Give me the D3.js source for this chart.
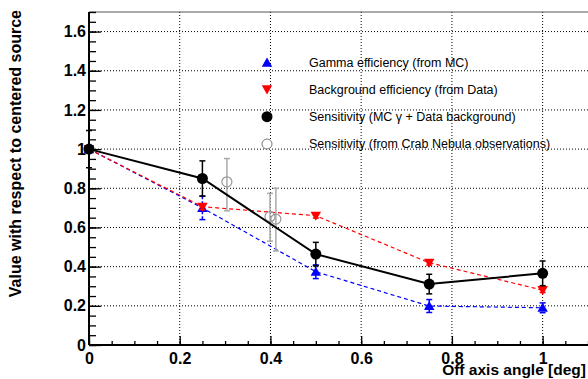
<!DOCTYPE html>
<html>
<head>
<meta charset="utf-8">
<script src="https://cdn.jsdelivr.net/npm/d3@7"></script>
<style>
  html, body { margin: 0; padding: 0; background: #fff; }
  svg text { font-family: "Liberation Sans", Arial, Helvetica, sans-serif; }
</style>
</head>
<body>
<div id="chart"></div>
<script>
// values
const angles = [0, 0.25, 0.5, 0.75, 1.0];
const gammaEff = [1.0, 0.70, 0.374, 0.199, 0.19];
const gammaErr = [0.0, 0.06, 0.035, 0.033, 0.025];
const bkgEff = [1.0, 0.706, 0.66, 0.42, 0.28];
const bkgErr = [0.0, 0.015, 0.012, 0.012, 0.012];
const sensitivity = [1.0, 0.85, 0.464, 0.311, 0.366];
const sensErr = [0.095, 0.09, 0.06, 0.05, 0.063];

const crabAngles = [0.304, 0.399, 0.412];
const crabSens = [0.833, 0.655, 0.643];
const crabErrLo = [0.148, 0.125, 0.163];
const crabErrHi = [0.119, 0.119, 0.157];

const xTicks = [0, 0.2, 0.4, 0.6, 0.8, 1.0];
const yTicks = [0, 0.2, 0.4, 0.6, 0.8, 1.0, 1.2, 1.4, 1.6];

const legendLabels = [
    "Gamma efficiency (from MC)",
    "Background efficiency (from Data)",
    "Sensitivity (MC \u03b3 + Data background)",
    "Sensitivity (from Crab Nebula observations)"
];

const width = 588, height = 379;
const margin = { top: 12, right: 0, bottom: 34, left: 89 };
const innerWidth = width - margin.left - margin.right;
const innerHeight = height - margin.top - margin.bottom;

const svg = d3.select("#chart").append("svg")
    .attr("width", width).attr("height", height)
    .style("display", "block");

const g = svg.append("g").attr("transform", `translate(${margin.left},${margin.top})`);

const x = d3.scaleLinear().domain([0, 1.1]).range([0, innerWidth]);
const y = d3.scaleLinear().domain([0, 1.7]).range([innerHeight, 0]);

// grid
g.append("g").selectAll("line").data(xTicks.filter(d => d > 0)).join("line")
    .attr("x1", d => x(d)).attr("x2", d => x(d)).attr("y1", 0).attr("y2", innerHeight)
    .attr("stroke", "#000").attr("stroke-width", 1).attr("stroke-dasharray", "1,2");
g.append("g").selectAll("line").data(yTicks.filter(d => d > 0)).join("line")
    .attr("x1", 0).attr("x2", innerWidth).attr("y1", d => y(d)).attr("y2", d => y(d))
    .attr("stroke", "#000").attr("stroke-width", 1).attr("stroke-dasharray", "1,2");

// top frame
g.append("line").attr("x1", 0).attr("x2", innerWidth).attr("y1", 0).attr("y2", 0)
    .attr("stroke", "#555").attr("stroke-width", 1);

// minor ticks
const xMinor = d3.range(0, 1.1001, 0.05);
const yMinor = d3.range(0, 1.7001, 0.05);
g.append("g").attr("transform", `translate(0,${innerHeight})`)
    .call(d3.axisBottom(x).tickValues(xMinor).tickSize(-4).tickFormat(""))
    .call(a => a.select(".domain").remove())
    .selectAll("line").attr("stroke", "#000").attr("stroke-width", 1.3);
g.append("g")
    .call(d3.axisLeft(y).tickValues(yMinor).tickSize(-7).tickFormat(""))
    .call(a => a.select(".domain").remove())
    .selectAll("line").attr("stroke", "#000").attr("stroke-width", 1.3);

// major ticks with labels
const xAxis = g.append("g").attr("transform", `translate(0,${innerHeight})`)
    .call(d3.axisBottom(x).tickValues(xTicks).tickSize(-9).tickPadding(14).tickFormat(d3.format("")));
xAxis.select(".domain").remove();
xAxis.selectAll("line").attr("stroke", "#000").attr("stroke-width", 1.3);
xAxis.selectAll("text").attr("fill", "#000").style("font-size", "16px").style("font-weight", "bold")
    .attr("dy", "0.3em");

const yAxis = g.append("g")
    .call(d3.axisLeft(y).tickValues(yTicks).tickSize(-12).tickPadding(3).tickFormat(d3.format("")));
yAxis.select(".domain").remove();
yAxis.selectAll("line").attr("stroke", "#000").attr("stroke-width", 1.3);
yAxis.selectAll("text").attr("fill", "#000").style("font-size", "16px").style("font-weight", "bold");

// axis lines
g.append("line").attr("x1", 0).attr("x2", innerWidth).attr("y1", innerHeight).attr("y2", innerHeight)
    .attr("stroke", "#000").attr("stroke-width", 2);
g.append("line").attr("x1", 0).attr("x2", 0).attr("y1", 0).attr("y2", innerHeight)
    .attr("stroke", "#000").attr("stroke-width", 2);

// axis titles
svg.append("text").attr("x", 586).attr("y", 375).attr("text-anchor", "end")
    .style("font-size", "15.5px").style("font-weight", "bold").text("Off axis angle [deg]");
svg.append("text").attr("transform", "translate(21,10) rotate(-90)").attr("text-anchor", "end")
    .style("font-size", "16px").style("font-weight", "bold").text("Value with respect to centered source");

const line = d3.line().x(d => x(d[0])).y(d => y(d[1]));

function errorBars(xs, vals, lo, hi, color, dash, cap) {
    const eg = g.append("g");
    xs.forEach((xv, i) => {
        if (lo[i] <= 0 && hi[i] <= 0) return;
        const top = y(vals[i] + hi[i]), bot = y(vals[i] - lo[i]);
        eg.append("line").attr("x1", x(xv)).attr("x2", x(xv)).attr("y1", top).attr("y2", bot)
            .attr("stroke", color).attr("stroke-width", 1.5).attr("stroke-dasharray", dash);
        if (cap > 0) {
            [top, bot].forEach(yy => eg.append("line")
                .attr("x1", x(xv) - cap).attr("x2", x(xv) + cap).attr("y1", yy).attr("y2", yy)
                .attr("stroke", color).attr("stroke-width", 1.5));
        }
    });
}

const tri = d3.symbol().type(d3.symbolTriangle).size(48);

// gamma efficiency
g.append("path").datum(angles.map((a, i) => [a, gammaEff[i]])).attr("d", line)
    .attr("fill", "none").attr("stroke", "#0000ff").attr("stroke-width", 1.2).attr("stroke-dasharray", "4,3");
errorBars(angles, gammaEff, gammaErr, gammaErr, "#0000ff", "3,2", 3);
g.append("g").selectAll("path").data(angles).join("path")
    .attr("transform", (d, i) => `translate(${x(d)},${y(gammaEff[i]) + 1})`)
    .attr("d", tri).attr("fill", "#0000ff");

// background efficiency
g.append("path").datum(angles.map((a, i) => [a, bkgEff[i]])).attr("d", line)
    .attr("fill", "none").attr("stroke", "#ff0000").attr("stroke-width", 1.2).attr("stroke-dasharray", "4,3");
errorBars(angles, bkgEff, bkgErr, bkgErr, "#ff0000", "3,2", 3);
g.append("g").selectAll("path").data(angles).join("path")
    .attr("transform", (d, i) => `translate(${x(d)},${y(bkgEff[i]) - 1}) rotate(180)`)
    .attr("d", tri).attr("fill", "#ff0000");

// crab sensitivity
errorBars(crabAngles, crabSens, crabErrLo, crabErrHi, "#aaa", null, 3);
g.append("g").selectAll("circle").data(crabAngles).join("circle")
    .attr("cx", d => x(d)).attr("cy", (d, i) => y(crabSens[i])).attr("r", 5)
    .attr("fill", "#fff").attr("fill-opacity", 0).attr("stroke", "#999").attr("stroke-width", 1.2);

// MC sensitivity
g.append("path").datum(angles.map((a, i) => [a, sensitivity[i]])).attr("d", line)
    .attr("fill", "none").attr("stroke", "#000").attr("stroke-width", 2);
errorBars(angles, sensitivity, sensErr, sensErr, "#000", null, 3);
g.append("g").selectAll("circle").data(angles).join("circle")
    .attr("cx", d => x(d)).attr("cy", (d, i) => y(sensitivity[i])).attr("r", 5.5)
    .attr("fill", "#000");

// legend
const legend = svg.append("g");
const legY = [62.7, 89.3, 116.7, 144];
const lx = 267;
legend.append("path").attr("transform", `translate(${lx},${legY[0] + 1})`).attr("d", tri).attr("fill", "#0000ff");
legend.append("path").attr("transform", `translate(${lx},${legY[1] - 1}) rotate(180)`).attr("d", tri).attr("fill", "#ff0000");
legend.append("circle").attr("cx", lx).attr("cy", legY[2]).attr("r", 5.5).attr("fill", "#000");
legend.append("circle").attr("cx", lx).attr("cy", legY[3]).attr("r", 5)
    .attr("fill", "#fff").attr("stroke", "#777").attr("stroke-width", 1);
legend.selectAll("text").data(legendLabels).join("text")
    .attr("x", 309).attr("y", (d, i) => legY[i]).attr("dy", "0.35em")
    .style("font-size", "12.5px").attr("fill", "#000").text(d => d);
</script>
</body>
</html>
